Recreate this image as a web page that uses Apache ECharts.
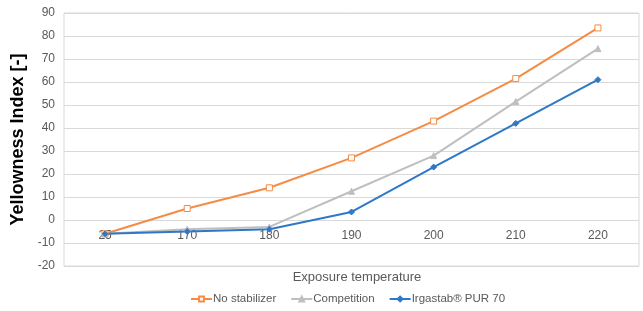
<!DOCTYPE html>
<html>
<head>
<meta charset="utf-8">
<script src="https://cdn.jsdelivr.net/npm/echarts@6/dist/echarts.min.js"></script>
<style>
    html, body { margin: 0; padding: 0; background: #fff; }
    #chart { width: 643px; height: 311px; }
</style>
</head>
<body>
<div id="chart"></div>
<script>
// data
const temperatures = ['25', '170', '180', '190', '200', '210', '220'];
const noStabilizer = [-6, 5, 14, 27, 43, 61.5, 83.5];
const competition = [-6, -4, -3, 12.5, 28, 51.5, 74.5];
const irgastab = [-6, -5, -4, 3.5, 23, 42, 61];
const yTicks = { min: -20, max: 90, interval: 10 };

const font = 'Liberation Sans, Arial, sans-serif';
const grey = '#595959';

const makeSeries = (name, data, color, symbol, filled) => ({
    name: name,
    type: 'line',
    data: data,
    symbol: symbol,
    symbolSize: 6,
    lineStyle: { color: color, width: 2 },
    itemStyle: {
        color: filled ? color : '#fff',
        borderColor: color,
        borderWidth: 1
    },
    emphasis: { disabled: true }
});

let chart = echarts.init(document.getElementById('chart'));
chart.setOption({
    animation: false,
    textStyle: { fontFamily: font },
    title: {
        text: 'Exposure temperature',
        left: 352,
        textAlign: 'center',
        top: 266,
        textStyle: { fontSize: 13, fontWeight: 'normal', color: grey, fontFamily: font }
    },
    legend: {
        bottom: 6,
        left: 190,
        padding: 0,
        itemWidth: 21,
        itemHeight: 6,
        itemGap: 14,
        textStyle: { fontSize: 11.5, color: grey, fontFamily: font, padding: [0, 0, 0, -4] },
        data: ['No stabilizer', 'Competition', 'Irgastab® PUR 70']
    },
    grid: {
        left: 64,
        right: 4,
        top: 13,
        bottom: 45,
        show: true,
        borderColor: '#d9d9d9',
        borderWidth: 1
    },
    xAxis: {
        type: 'category',
        data: temperatures,
        boundaryGap: true,
        // category labels sit just under the zero line, like Excel's axis crossing
        offset: -46,
        axisLine: { onZero: false, show: false },
        axisTick: { show: false },
        axisLabel: { color: grey, fontSize: 12, margin: 10, fontFamily: font }
    },
    yAxis: {
        type: 'value',
        min: yTicks.min,
        max: yTicks.max,
        interval: yTicks.interval,
        name: 'Yellowness Index [-]',
        nameLocation: 'middle',
        nameGap: 36,
        nameTextStyle: { fontSize: 18, fontWeight: 'bold', color: '#000', fontFamily: font },
        axisLine: { show: false },
        axisTick: { show: false },
        axisLabel: { color: grey, fontSize: 12, margin: 9, fontFamily: font },
        splitLine: { lineStyle: { color: '#d9d9d9' } }
    },
    series: [
        makeSeries('No stabilizer', noStabilizer, '#f58b45', 'rect', false),
        makeSeries('Competition', competition, '#bfbfbf', 'triangle', true),
        makeSeries('Irgastab® PUR 70', irgastab, '#2e78c7', 'diamond', true)
    ]
});
</script>
</body>
</html>
